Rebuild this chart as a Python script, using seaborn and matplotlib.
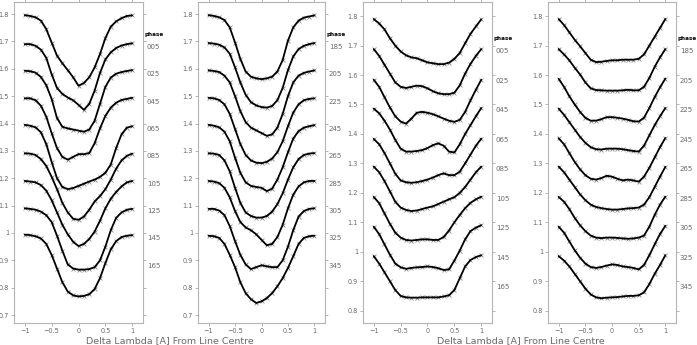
import numpy as np
import pandas as pd
import matplotlib
matplotlib.use("Agg")
import matplotlib.pyplot as plt
import matplotlib.transforms as mtransforms
import seaborn as sns

# ---------------- data ----------------
x_grid = [-1.0, -0.9, -0.8, -0.7, -0.6, -0.5, -0.4, -0.3, -0.2, -0.1, 0.0,
          0.1, 0.2, 0.3, 0.4, 0.5, 0.6, 0.7, 0.8, 0.9, 1.0]

phases_a = ["005", "025", "045", "065", "085", "105", "125", "145", "165"]
phases_b = ["185", "205", "225", "245", "265", "285", "305", "325", "345"]

# line depths below continuum (continuum of each profile offset by 0.1)
depth_panel1 = [
    [0.004,0.007,0.012,0.024,0.055,0.104,0.152,0.180,0.205,0.231,0.262,0.252,0.231,0.195,0.146,0.088,0.046,0.027,0.015,0.007,0.005],
    [0.010,0.010,0.016,0.030,0.060,0.120,0.170,0.192,0.205,0.215,0.232,0.250,0.228,0.180,0.115,0.066,0.040,0.024,0.015,0.010,0.007],
    [0.007,0.009,0.014,0.030,0.060,0.110,0.180,0.212,0.218,0.222,0.226,0.230,0.222,0.190,0.128,0.066,0.032,0.018,0.012,0.008,0.005],
    [0.008,0.008,0.015,0.035,0.075,0.135,0.190,0.222,0.232,0.222,0.212,0.212,0.208,0.172,0.118,0.072,0.042,0.024,0.014,0.010,0.006],
    [0.005,0.008,0.014,0.032,0.075,0.140,0.200,0.232,0.240,0.236,0.228,0.220,0.212,0.205,0.195,0.180,0.150,0.090,0.040,0.015,0.010],
    [0.009,0.010,0.015,0.030,0.055,0.095,0.140,0.190,0.225,0.248,0.252,0.240,0.215,0.185,0.165,0.140,0.105,0.065,0.035,0.018,0.010],
    [0.010,0.012,0.015,0.025,0.045,0.080,0.125,0.170,0.205,0.232,0.248,0.240,0.222,0.195,0.155,0.110,0.075,0.050,0.030,0.015,0.010],
    [0.010,0.012,0.015,0.022,0.035,0.060,0.110,0.165,0.215,0.230,0.234,0.234,0.232,0.225,0.200,0.150,0.090,0.045,0.025,0.015,0.012],
    [0.006,0.008,0.012,0.020,0.040,0.080,0.130,0.180,0.214,0.228,0.232,0.230,0.224,0.205,0.165,0.110,0.060,0.030,0.015,0.010,0.008],
]
depth_panel2 = [
    [0.004,0.007,0.012,0.022,0.049,0.104,0.164,0.210,0.229,0.235,0.238,0.235,0.229,0.210,0.168,0.097,0.049,0.024,0.013,0.009,0.005],
    [0.006,0.008,0.012,0.022,0.045,0.095,0.150,0.195,0.222,0.234,0.240,0.242,0.236,0.215,0.170,0.105,0.055,0.028,0.016,0.010,0.006],
    [0.006,0.008,0.012,0.025,0.050,0.100,0.155,0.195,0.215,0.225,0.235,0.245,0.240,0.215,0.165,0.100,0.050,0.025,0.015,0.010,0.006],
    [0.006,0.008,0.014,0.030,0.065,0.120,0.175,0.215,0.235,0.243,0.245,0.240,0.228,0.205,0.165,0.110,0.060,0.030,0.015,0.010,0.008],
    [0.005,0.008,0.014,0.030,0.065,0.125,0.180,0.215,0.228,0.232,0.235,0.247,0.238,0.205,0.160,0.105,0.055,0.028,0.015,0.010,0.006],
    [0.009,0.010,0.015,0.035,0.075,0.135,0.190,0.225,0.238,0.244,0.244,0.238,0.222,0.195,0.155,0.105,0.060,0.030,0.015,0.010,0.008],
    [0.010,0.012,0.018,0.035,0.070,0.120,0.160,0.180,0.190,0.205,0.225,0.245,0.240,0.215,0.170,0.110,0.060,0.030,0.015,0.010,0.010],
    [0.012,0.012,0.018,0.035,0.075,0.130,0.180,0.215,0.232,0.225,0.218,0.222,0.225,0.225,0.200,0.150,0.090,0.040,0.020,0.012,0.010],
    [0.010,0.012,0.018,0.040,0.080,0.125,0.180,0.220,0.242,0.256,0.250,0.238,0.220,0.195,0.165,0.128,0.085,0.040,0.018,0.012,0.010],
]
depth_panel3 = [
    [0.010,0.025,0.045,0.075,0.100,0.120,0.133,0.140,0.143,0.150,0.157,0.160,0.163,0.163,0.158,0.145,0.125,0.092,0.060,0.035,0.011],
    [0.012,0.035,0.065,0.095,0.125,0.140,0.144,0.140,0.136,0.138,0.145,0.155,0.162,0.165,0.165,0.160,0.135,0.095,0.062,0.035,0.012],
    [0.016,0.040,0.075,0.110,0.140,0.158,0.165,0.148,0.128,0.125,0.128,0.133,0.140,0.148,0.155,0.159,0.152,0.125,0.086,0.050,0.016],
    [0.014,0.030,0.055,0.085,0.120,0.150,0.160,0.160,0.158,0.155,0.148,0.138,0.132,0.140,0.160,0.163,0.135,0.100,0.070,0.040,0.012],
    [0.017,0.035,0.065,0.100,0.135,0.158,0.164,0.166,0.164,0.160,0.155,0.148,0.140,0.134,0.140,0.140,0.128,0.100,0.070,0.040,0.016],
    [0.011,0.030,0.060,0.095,0.130,0.150,0.158,0.162,0.160,0.155,0.150,0.146,0.138,0.130,0.122,0.115,0.100,0.080,0.055,0.030,0.011],
    [0.014,0.035,0.070,0.105,0.135,0.152,0.160,0.162,0.160,0.158,0.158,0.160,0.160,0.150,0.128,0.100,0.075,0.052,0.034,0.022,0.013],
    [0.015,0.040,0.075,0.110,0.140,0.153,0.158,0.155,0.153,0.152,0.150,0.152,0.156,0.162,0.160,0.130,0.096,0.058,0.030,0.018,0.010],
    [0.015,0.040,0.070,0.100,0.130,0.150,0.155,0.156,0.156,0.155,0.155,0.155,0.155,0.152,0.148,0.130,0.090,0.050,0.028,0.018,0.012],
]
depth_panel4 = [
    [0.010,0.030,0.055,0.080,0.102,0.125,0.148,0.156,0.155,0.152,0.150,0.150,0.148,0.148,0.148,0.145,0.130,0.100,0.070,0.040,0.010],
    [0.012,0.030,0.050,0.075,0.098,0.125,0.145,0.151,0.152,0.153,0.153,0.153,0.152,0.150,0.152,0.152,0.140,0.110,0.072,0.040,0.012],
    [0.013,0.040,0.072,0.100,0.125,0.145,0.155,0.155,0.150,0.143,0.143,0.145,0.148,0.152,0.157,0.158,0.145,0.112,0.075,0.042,0.012],
    [0.014,0.035,0.060,0.085,0.110,0.130,0.145,0.152,0.153,0.150,0.150,0.150,0.152,0.155,0.158,0.160,0.140,0.105,0.070,0.040,0.012],
    [0.015,0.035,0.065,0.095,0.120,0.140,0.152,0.155,0.150,0.142,0.145,0.152,0.158,0.155,0.158,0.162,0.145,0.115,0.080,0.045,0.014],
    [0.011,0.030,0.055,0.080,0.105,0.125,0.140,0.148,0.152,0.155,0.157,0.157,0.155,0.153,0.152,0.150,0.140,0.115,0.080,0.045,0.012],
    [0.014,0.030,0.055,0.085,0.110,0.130,0.145,0.152,0.154,0.152,0.152,0.153,0.155,0.156,0.155,0.152,0.145,0.115,0.075,0.040,0.013],
    [0.015,0.035,0.065,0.095,0.120,0.140,0.152,0.155,0.152,0.147,0.143,0.145,0.150,0.152,0.155,0.160,0.145,0.112,0.075,0.040,0.012],
    [0.015,0.030,0.050,0.075,0.100,0.125,0.145,0.155,0.158,0.156,0.155,0.154,0.152,0.150,0.150,0.148,0.138,0.110,0.075,0.045,0.012],
]

yticks_a = [0.7, 0.8, 0.9, 1.0, 1.1, 1.2, 1.3, 1.4, 1.5, 1.6, 1.7, 1.8]
yticks_b = [0.8, 0.9, 1.0, 1.1, 1.2, 1.3, 1.4, 1.5, 1.6, 1.7, 1.8]
xticks = [-1, -0.5, 0, 0.5, 1]
xlabel_text = "Delta Lambda [A] From Line Centre"

# ---------------- figure ----------------
sns.set_theme(style="white")
plt.rcParams["font.family"] = ["DejaVu Sans"]

W, H = 697, 345
fig = plt.figure(figsize=(W / 100, H / 100), dpi=100)

panels = [
    (14, 143, depth_panel1, phases_a, yticks_a, (0.671, 1.844)),
    (198, 325, depth_panel2, phases_b, yticks_a, (0.671, 1.844)),
    (363, 492, depth_panel3, phases_a, yticks_b, (0.758, 1.848)),
    (548, 676, depth_panel4, phases_b, yticks_b, (0.758, 1.848)),
]
top_px, bot_px = 2, 323
spine_c = "#b4b4b4"
text_c = "#6a6a6a"

def fmt(v):
    s = f"{v:g}"
    return s.replace("-", "\u2212")

for (l, r, depths, phases, yt, ylim) in panels:
    ax = fig.add_axes([l / W, 1 - bot_px / H, (r - l) / W, (bot_px - top_px) / H])
    rows = []
    for k, d in enumerate(depths):
        cont = 1.8 - 0.1 * k
        for xv, dv in zip(x_grid, d):
            rows.append({"x": xv, "y": cont - dv, "curve": k})
    df = pd.DataFrame(rows)
    sns.scatterplot(data=df, x="x", y="y", marker="x", color="#8c8c8c", s=8,
                    linewidth=0.6, ax=ax, zorder=2, legend=False)
    sns.lineplot(data=df, x="x", y="y", units="curve", estimator=None,
                 color="black", linewidth=1.3, ax=ax, zorder=3, legend=False,
                 sort=True)
    ax.set_xlim(-1.2, 1.2)
    ax.set_ylim(*ylim)
    ax.set_xticks(xticks)
    ax.set_xticklabels([fmt(v) for v in xticks])
    ax.set_yticks(yt)
    ax.set_yticklabels([fmt(v) for v in yt])
    ax.set_xlabel("")
    ax.set_ylabel("")
    for sp in ax.spines.values():
        sp.set_visible(True)
        sp.set_color(spine_c)
        sp.set_linewidth(0.8)
    ax.tick_params(axis="both", which="major", direction="out", length=2.5,
                   width=0.7, color=spine_c, labelcolor=text_c, labelsize=4.7,
                   pad=1.0, top=True, right=True, labeltop=False, labelright=False,
                   left=True, bottom=True)
    ax.set_facecolor("white")
    trans = mtransforms.blended_transform_factory(ax.transAxes, ax.transData)
    ax.text(1.012, 1.725, "phase", transform=trans, fontsize=4.1, fontweight="bold",
            color="black", va="center", ha="left", clip_on=False)
    for k, ph in enumerate(phases):
        ax.text(1.03, 1.68 - 0.1 * k, ph, transform=trans, fontsize=5.0,
                color=text_c, va="center", ha="left", clip_on=False)

fig.text(170 / W, 1 - 341 / H, xlabel_text, ha="center", va="center",
         fontsize=6.8, color=text_c)
fig.text(521 / W, 1 - 341 / H, xlabel_text, ha="center", va="center",
         fontsize=6.8, color=text_c)

fig.savefig("out.png", dpi=100, facecolor="white")
